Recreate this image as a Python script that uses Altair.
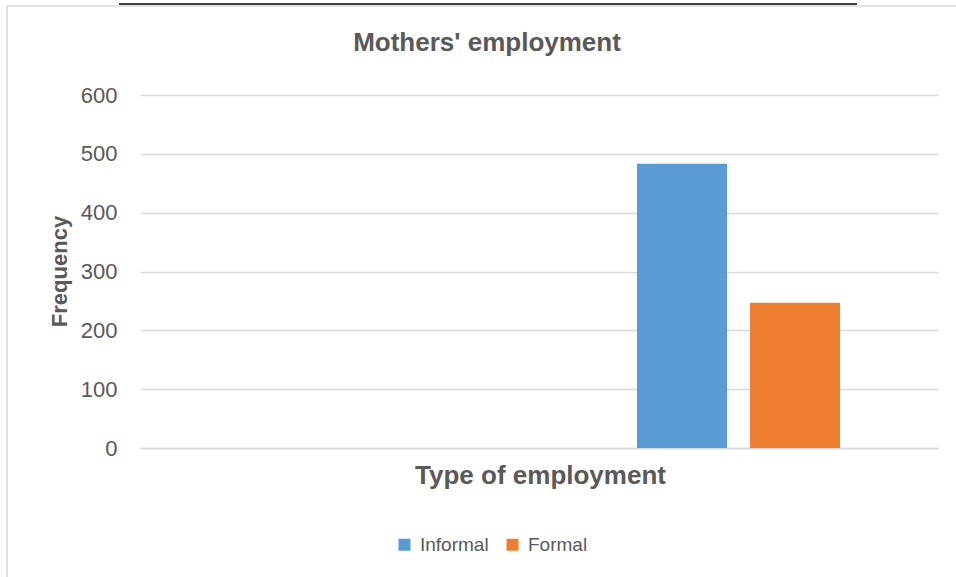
import altair as alt
import pandas as pd

# ---- data ----
groups = ["", "Mothers"]          # first category empty, as in the original sheet
series = ["Informal", "Formal"]
informal = [None, 483]
formal = [None, 247]
colors = ["#5B9BD5", "#ED7D31"]

rows = []
for i, g in enumerate(groups):
    rows.append({"group": g, "series": "Informal", "value": informal[i]})
    rows.append({"group": g, "series": "Formal", "value": formal[i]})
df = pd.DataFrame(rows)

FONT = "Liberation Sans, Arial, sans-serif"
TXT = "#595959"
GRID = "#D9D9D9"

bars = alt.Chart(df).mark_bar().encode(
    x=alt.X("group:N", scale=alt.Scale(domain=groups, paddingInner=0, paddingOuter=0),
            axis=alt.Axis(labels=False, ticks=False, domain=True, domainColor=GRID,
                          domainWidth=1.5, grid=False,
                          title="Type of employment", titleFontSize=26, titleFont=FONT,
                          titleFontWeight="bold", titleColor=TXT,
                          titleX=400, titleY=35, titleBaseline="alphabetic", titleAlign="center")),
    xOffset=alt.XOffset("series:N", sort=series,
                        scale=alt.Scale(domain=series, paddingInner=0.2035, paddingOuter=0.867)),
    y=alt.Y("value:Q", scale=alt.Scale(domain=[0, 600]),
            axis=alt.Axis(values=[0, 100, 200, 300, 400, 500, 600], ticks=False, domain=False,
                          gridColor=GRID, gridWidth=1.5, labelFontSize=22, labelFont=FONT,
                          labelColor=TXT, labelPadding=23,
                          title="Frequency", titleFontSize=22, titleFont=FONT,
                          titleFontWeight="bold", titleColor=TXT, titleAngle=270,
                          titleX=-81, titleY=176, titleBaseline="middle", titleAlign="center")),
    color=alt.Color("series:N", sort=series, scale=alt.Scale(domain=series, range=colors),
                    legend=alt.Legend(title=None, orient="none", direction="horizontal",
                                      legendX=255, legendY=440, symbolType="square",
                                      symbolSize=144, symbolStrokeWidth=0,
                                      labelFontSize=19, labelFont=FONT, labelColor=TXT,
                                      labelOffset=6, columnPadding=14)),
)

frame_df = pd.DataFrame({"k": [0]})
frame_left = alt.Chart(frame_df).mark_rule(color=GRID, strokeWidth=1.5).encode(
    x=alt.value(-133), y=alt.value(-89), y2=alt.value(490))
frame_top = alt.Chart(frame_df).mark_rule(color=GRID, strokeWidth=1.5).encode(
    x=alt.value(-133), x2=alt.value(830), y=alt.value(-89))
black_line = alt.Chart(frame_df).mark_rule(color="#000000", strokeWidth=1.5).encode(
    x=alt.value(-21), x2=alt.value(717), y=alt.value(-91))

chart = alt.layer(frame_left, frame_top, black_line, bars).properties(
    width=798, height=353,
    padding={"left": 140, "top": 95, "right": 18, "bottom": 129},
    autosize=alt.AutoSizeParams(type="none"),
    background="white",
    title=alt.TitleParams("Mothers' employment", fontSize=26, font=FONT, fontWeight="bold",
                          color=TXT, anchor="middle", dx=-52, offset=-53),
).configure_view(strokeWidth=0, stroke=None)

chart.save("out.html", embed_options={"renderer": "svg", "actions": False})
